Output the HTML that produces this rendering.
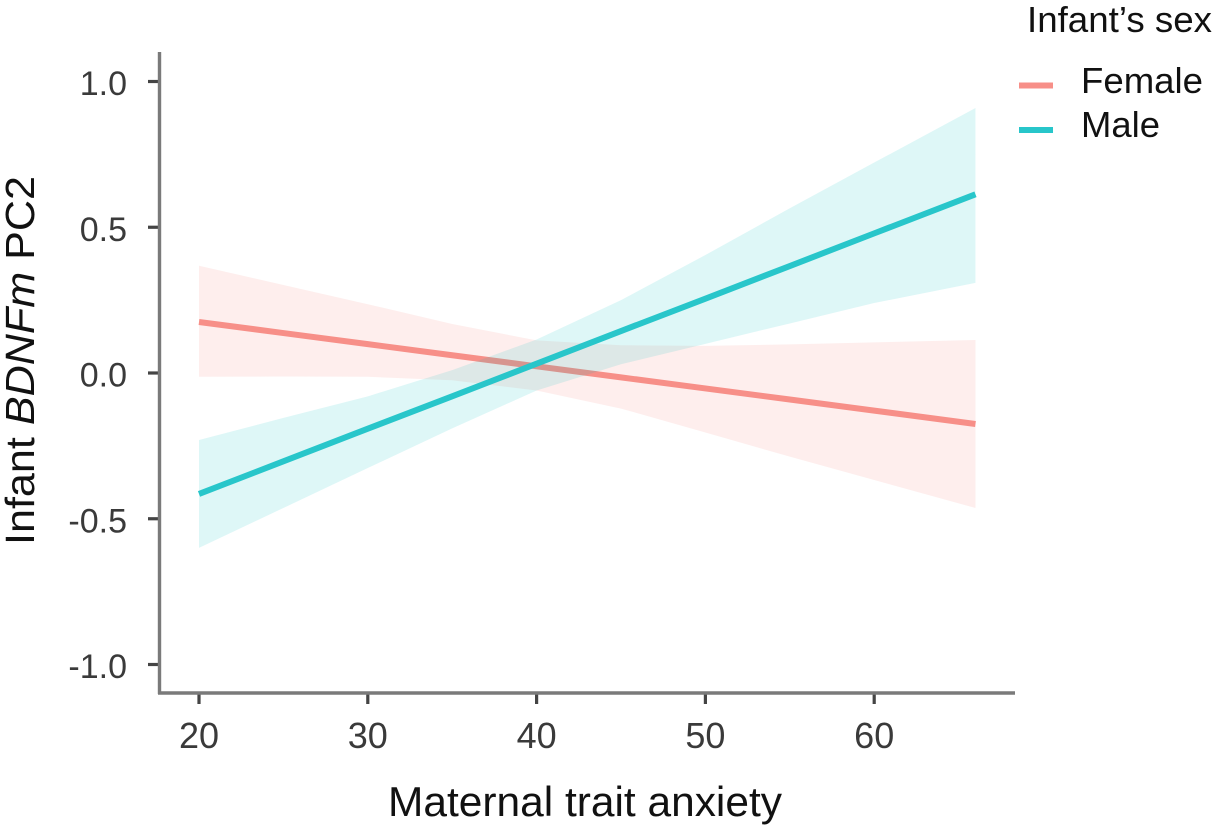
<!DOCTYPE html>
<html lang="en">
<head>
<meta charset="utf-8">
<title>Infant BDNFm PC2 by maternal trait anxiety</title>
<style>
  html, body { margin: 0; padding: 0; background: #fff; }
  body { width: 1214px; height: 827px; overflow: hidden; }
  svg { display: block; font-family: "Liberation Sans", sans-serif; }
  svg text { filter: blur(0.3px); }
</style>
</head>
<body>
<svg id="chart" width="1214" height="827" viewBox="0 0 1214 827" xmlns="http://www.w3.org/2000/svg">
  <g id="bands-lines"></g>
  <g id="x-ticks"></g>
  <g id="y-ticks"></g>
  <line x1="159.5" y1="52" x2="159.5" y2="694" stroke="#7a7a7a" stroke-width="3.4"/>
  <line x1="158" y1="693" x2="1015" y2="693" stroke="#7a7a7a" stroke-width="3.4"/>
  <text x="585" y="816" font-size="42" text-anchor="middle" fill="#111" textLength="394" lengthAdjust="spacingAndGlyphs">Maternal trait anxiety</text>
  <text transform="translate(34,545) rotate(-90)" font-size="41" fill="#111" textLength="369" lengthAdjust="spacingAndGlyphs">Infant <tspan font-style="italic">BDNFm</tspan> PC2</text>
  <text x="1027" y="32" font-size="36" fill="#111" textLength="185" lengthAdjust="spacingAndGlyphs">Infant’s sex</text>
  <line x1="1019" y1="85.5" x2="1053" y2="85.5" stroke="#f78f88" stroke-width="6"/>
  <text x="1081" y="93" font-size="36" fill="#111" textLength="122" lengthAdjust="spacingAndGlyphs">Female</text>
  <line x1="1019" y1="130" x2="1053" y2="130" stroke="#28c6ca" stroke-width="6"/>
  <text x="1081" y="137" font-size="36" fill="#111" textLength="79" lengthAdjust="spacingAndGlyphs">Male</text>
</svg>
<script>
const anxiety = [20, 25, 30, 35, 40, 45, 50, 55, 60, 66];
const femaleFit = [0.175, 0.137, 0.099, 0.061, 0.023, -0.015, -0.053, -0.091, -0.129, -0.175];
const femaleUpper = [0.368, 0.302, 0.236, 0.168, 0.112, 0.095, 0.093, 0.098, 0.105, 0.113];
const femaleLower = [-0.013, -0.012, -0.013, -0.025, -0.060, -0.122, -0.204, -0.287, -0.367, -0.463];
const maleFit = [-0.415, -0.303, -0.191, -0.080, 0.032, 0.144, 0.255, 0.367, 0.479, 0.613];
const maleUpper = [-0.230, -0.154, -0.080, 0.010, 0.115, 0.250, 0.405, 0.565, 0.722, 0.909];
const maleLower = [-0.600, -0.463, -0.326, -0.190, -0.060, 0.030, 0.100, 0.170, 0.240, 0.309];
const xTickValues = [20, 30, 40, 50, 60];
const yTickValues = [1.0, 0.5, 0.0, -0.5, -1.0];
const yTickLabels = ["1.0", "0.5", "0.0", "-0.5", "-1.0"];

const NS = "http://www.w3.org/2000/svg";
function xScale(v) { return 199 + (v - 20) * 16.88; }
function yScale(v) { return 373 - v * 291.5; }

function make(tag, attrs, parent) {
  const el = document.createElementNS(NS, tag);
  for (const k in attrs) el.setAttribute(k, attrs[k]);
  parent.appendChild(el);
  return el;
}

function bandPoints(upper, lower) {
  const top = anxiety.map((x, i) => xScale(x) + "," + yScale(upper[i]));
  const bottom = anxiety.map((x, i) => xScale(x) + "," + yScale(lower[i])).reverse();
  return top.concat(bottom).join(" ");
}

function linePoints(values) {
  return anxiety.map((x, i) => xScale(x) + "," + yScale(values[i])).join(" ");
}

const plot = document.getElementById("bands-lines");

const femaleBand = make("polygon", { points: bandPoints(femaleUpper, femaleLower), fill: "#f8766d", "fill-opacity": 0.12 }, plot);



const femaleLine = make("polyline", { points: linePoints(femaleFit), fill: "none", stroke: "#f78f88", "stroke-width": 6 }, plot);



const maleBand = make("polygon", { points: bandPoints(maleUpper, maleLower), fill: "#00bfc4", "fill-opacity": 0.13 }, plot);



const maleLine = make("polyline", { points: linePoints(maleFit), fill: "none", stroke: "#28c6ca", "stroke-width": 6 }, plot);



const xTicks = document.getElementById("x-ticks");
xTickValues.forEach(function (v) {
  const tick = make("line", { x1: xScale(v), x2: xScale(v), y1: 694, y2: 704, stroke: "#444", "stroke-width": 3.2 }, xTicks);
  
  
  const label = make("text", { x: xScale(v), y: 748, "font-size": 36, "text-anchor": "middle", fill: "#3a3a3a" }, xTicks);
  label.textContent = String(v);
  
  
});

const yTicks = document.getElementById("y-ticks");
yTickValues.forEach(function (v, i) {
  const tick = make("line", { x1: 148, x2: 158, y1: yScale(v), y2: yScale(v), stroke: "#444", "stroke-width": 3.2 }, yTicks);
  
  
  const label = make("text", { x: 127, y: yScale(v) + 13.5, "font-size": 34, "text-anchor": "end", fill: "#3a3a3a" }, yTicks);
  label.textContent = yTickLabels[i];
  
  
});
</script>
</body>
</html>
